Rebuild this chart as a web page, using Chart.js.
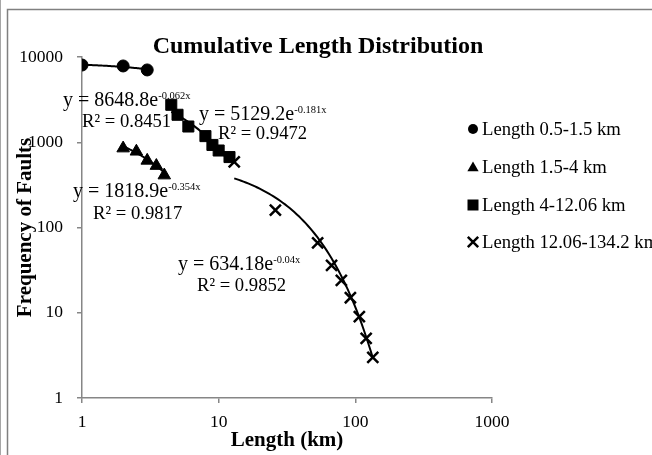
<!DOCTYPE html>
<html><head><meta charset="utf-8">
<script src="https://cdn.jsdelivr.net/npm/chart.js@4"></script>
<style>html,body{margin:0;padding:0;background:#fff;}canvas{display:block;}</style>
</head><body>
<canvas id="c" width="652" height="455"></canvas>
<script>
// ---- data ----
const seriesNames = ['Length 0.5-1.5 km', 'Length 1.5-4 km', 'Length 4-12.06 km', 'Length 12.06-134.2 km'];
const len1 = [1, 2, 3];
const freq1 = [8050, 7850, 7050];
const len2 = [2, 2.5, 3, 3.5, 4];
const freq2 = [850, 780, 610, 530, 410];
const len3 = [4.5, 5, 6, 8, 9, 10, 12];
const freq3 = [2750, 2100, 1530, 1180, 930, 800, 670];
const len4 = [13, 26, 53, 67, 79, 92, 107, 120, 134.2];
const freq4 = [590, 160, 66, 36, 24, 15, 9, 5, 3];
// exponential trendline coefficients shown on the chart (y = a e^(b x))
const fitA = [8648.8, 1818.9, 5129.2, 634.18];
const fitB = [-0.062, -0.354, -0.181, -0.04];
const fitR2 = ['0.8451', '0.9817', '0.9472', '0.9852'];
const xTicks = [1, 10, 100, 1000];
const yTicks = [1, 10, 100, 1000, 10000];
const chartTitle = 'Cumulative Length Distribution';
const xTitle = 'Length (km)';
const yTitle = 'Frequency of Faults';

const lens = [len1, len2, len3, len4];
const freqs = [freq1, freq2, freq3, freq4];
const F = '"Liberation Serif","Times New Roman",Times,serif';
const markerStyles = ['circle', 'triangle', 'rect', 'crossRot'];
const markerRadius = [6, 7.2, 7.8, 7.8];

// label anchors in data coordinates (left edge, vertical centre)
const eqPos = [
  {eq: [0.726, 3131], r2: [1.0, 1799]},
  {eq: [0.859, 268], r2: [1.204, 148]},
  {eq: [7.18, 2174], r2: [9.88, 1284]},
  {eq: [5.04, 37.8], r2: [6.94, 21.2]}
];

function drawMarker(ctx, style, x, y, r) {
  ctx.save();
  ctx.fillStyle = '#000'; ctx.strokeStyle = '#000';
  ctx.beginPath();
  if (style === 'circle') { ctx.arc(x, y, r, 0, Math.PI * 2); ctx.fill(); }
  else if (style === 'triangle') {
    for (let k = 0; k < 3; k++) { const a = k * 2 * Math.PI / 3; const px = x + Math.sin(a) * r, py = y - Math.cos(a) * r; k ? ctx.lineTo(px, py) : ctx.moveTo(px, py); }
    ctx.closePath(); ctx.fill();
  } else if (style === 'rect') { ctx.rect(x - r, y - r, 2 * r, 2 * r); ctx.fill(); }
  else { ctx.lineWidth = 2.5; ctx.moveTo(x - r, y - r); ctx.lineTo(x + r, y + r); ctx.moveTo(x + r, y - r); ctx.lineTo(x - r, y + r); ctx.stroke(); }
  ctx.restore();
}

const deco = {
  id: 'deco',
  beforeDraw(chart) {
    const ctx = chart.ctx;
    ctx.save();
    ctx.fillStyle = '#fff'; ctx.fillRect(0, 0, chart.width, chart.height);
    ctx.strokeStyle = '#a6a6a6'; ctx.lineWidth = 1;
    ctx.beginPath(); ctx.moveTo(0.5, 0); ctx.lineTo(0.5, chart.height); ctx.stroke();
    ctx.strokeStyle = '#808080'; ctx.lineWidth = 1.5;
    ctx.beginPath(); ctx.moveTo(7.5, chart.height); ctx.lineTo(7.5, 9.5); ctx.lineTo(chart.width, 9.5); ctx.stroke();
    ctx.restore();
  },
  beforeDatasetsDraw(chart) {
    const ctx = chart.ctx, xs = chart.scales.x, ys = chart.scales.y;
    ctx.save();
    ctx.strokeStyle = '#000'; ctx.lineWidth = 2;
    for (let i = 0; i < 4; i++) {
      const lo = Math.min(...lens[i]), hi = Math.max(...lens[i]);
      ctx.beginPath();
      const n = 60;
      for (let k = 0; k <= n; k++) {
        const xv = lo * Math.pow(hi / lo, k / n);
        const yv = fitA[i] * Math.exp(fitB[i] * xv);
        const px = xs.getPixelForValue(xv), py = ys.getPixelForValue(yv);
        k ? ctx.lineTo(px, py) : ctx.moveTo(px, py);
      }
      ctx.stroke();
    }
    ctx.restore();
  },
  afterDraw(chart) {
    const ctx = chart.ctx, xs = chart.scales.x, ys = chart.scales.y;
    ctx.save();
    ctx.fillStyle = '#000';
    // title
    ctx.font = 'bold 24px ' + F; ctx.textAlign = 'center'; ctx.textBaseline = 'alphabetic';
    ctx.fillText(chartTitle, 318, 45 + 8);
    // trendline equations
    ctx.textAlign = 'left';
    const fs = 18.67, fe = 20;
    for (let i = 0; i < 4; i++) {
      const p = eqPos[i];
      let x = xs.getPixelForValue(p.eq[0]), y = ys.getPixelForValue(p.eq[1]) + fs * 0.33;
      const main = 'y = ' + fitA[i] + 'e';
      ctx.font = fe + 'px ' + F; ctx.fillText(main, x, y);
      const w = ctx.measureText(main).width;
      ctx.font = '10.5px ' + F; ctx.fillText(fitB[i] + 'x', x + w, y - 6.8);
      x = xs.getPixelForValue(p.r2[0]); y = ys.getPixelForValue(p.r2[1]) + fs * 0.33;
      ctx.font = fs + 'px ' + F; ctx.fillText('R\u00B2 = ' + fitR2[i], x, y);
    }
    // legend
    const rowY = [129, 167, 205, 242];
    const legR = [5, 6.5, 5.5, 5.2];
    for (let i = 0; i < 4; i++) {
      drawMarker(ctx, markerStyles[i], 473, rowY[i] + (i === 1 ? 1 : 0), legR[i]);
      ctx.font = fs + 'px ' + F; ctx.fillStyle = '#000'; ctx.textAlign = 'left';
      ctx.fillText(seriesNames[i], 482, rowY[i] + fs * 0.33);
    }
    ctx.restore();
  }
};

const datasets = lens.map((L, i) => ({
  label: seriesNames[i],
  data: L.map((x, j) => ({x: x, y: freqs[i][j]})),
  pointStyle: markerStyles[i],
  pointRadius: markerRadius[i],
  pointBorderWidth: markerStyles[i] === 'crossRot' ? 2.5 : 1,
  backgroundColor: '#000',
  borderColor: '#000',
  showLine: false
}));

new Chart(document.getElementById('c').getContext('2d'), {
  type: 'scatter',
  data: {datasets: datasets},
  options: {
    responsive: false, animation: false, devicePixelRatio: 1,
    layout: {padding: {top: 57, right: 160, left: 0, bottom: 0}},
    plugins: {legend: {display: false}, title: {display: false}, tooltip: {enabled: false}},
    scales: {
      x: {
        type: 'logarithmic', min: 1, max: 1000,
        afterBuildTicks: s => { s.ticks = xTicks.map(v => ({value: v})); },
        afterFit: s => { s.height = 57; },
        ticks: {color: '#000', font: {family: F, size: 17.5}, padding: 9, autoSkip: false, maxRotation: 0, callback: v => String(v)},
        grid: {display: true, drawOnChartArea: false, drawTicks: true, tickLength: 5, color: '#868686', lineWidth: 1.5},
        border: {display: true, color: '#868686', width: 1.5},
        title: {display: true, text: xTitle, color: '#000', font: {family: F, size: 21, weight: 'bold'}, padding: {top: 0, bottom: 2}}
      },
      y: {
        type: 'logarithmic', min: 1, max: 10000,
        afterBuildTicks: s => { s.ticks = yTicks.map(v => ({value: v})); },
        afterFit: s => { s.width = 82; },
        ticks: {color: '#000', font: {family: F, size: 17.5}, padding: 14, autoSkip: false, callback: v => String(v)},
        grid: {display: true, drawOnChartArea: false, drawTicks: true, tickLength: 5, color: '#868686', lineWidth: 1.5},
        border: {display: true, color: '#868686', width: 1.5},
        title: {display: true, text: yTitle, color: '#000', font: {family: F, size: 21, weight: 'bold'}, padding: {top: 13, bottom: 0}}
      }
    }
  },
  plugins: [deco]
});
</script>
</body></html>
